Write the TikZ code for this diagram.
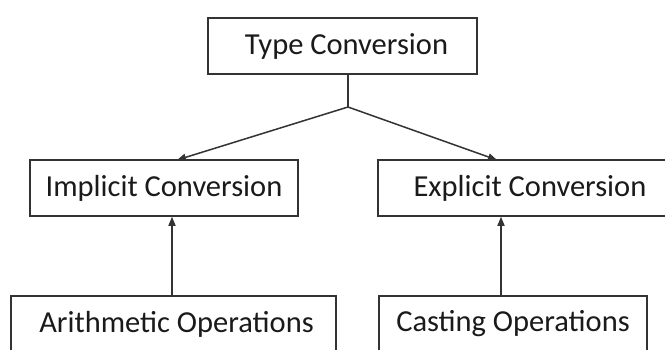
\documentclass[tikz,border=0pt]{standalone}
\usepackage{fontspec}
\setmainfont{Carlito}
\usetikzlibrary{arrows.meta}
\definecolor{linec}{HTML}{333333}
\definecolor{textc}{HTML}{1A1A1A}
\tikzset{
  box/.style={draw=linec, line width=1.5pt, rectangle, minimum height=56pt, inner sep=0pt,
              text=textc, font=\fontsize{30.5}{32}\selectfont},
  arr/.style={draw=linec, line width=1.5pt, -{Triangle[length=9pt,width=7pt]}},
  ln/.style={draw=linec, line width=1.5pt}
}
\begin{document}
\begin{tikzpicture}[x=1pt,y=-1pt]
\clip (0,0) rectangle (665,349);
\fill[white] (0,0) rectangle (665,349);
\node[box, minimum width=269pt] (top) at (342.5,46) {\hspace*{8pt}Type Conversion};
\node[box, minimum width=268pt] (impl) at (164,188) {Implicit Conversion};
\node[box, minimum width=294pt] (expl) at (525,188) {\hspace*{10pt}Explicit Conversion};
\node[box, minimum width=325pt] (arith) at (173.5,324) {\hspace*{6pt}Arithmetic Operations};
\node[box, minimum width=268pt] (cast) at (513,324) {Casting Operations};
\coordinate (J) at (348,107);
\coordinate (tl) at (177,160);
\coordinate (tr) at (497,160);
\coordinate (a1) at (172,0);
\coordinate (a2) at (501,0);
\draw[ln] (top.south -| J) -- (J);
\draw[arr] (J) -- (tl);
\draw[arr] (J) -- (tr);
\draw[arr] (arith.north -| a1) -- (impl.south -| a1);
\draw[arr] (cast.north -| a2) -- (expl.south -| a2);
\end{tikzpicture}
\end{document}
